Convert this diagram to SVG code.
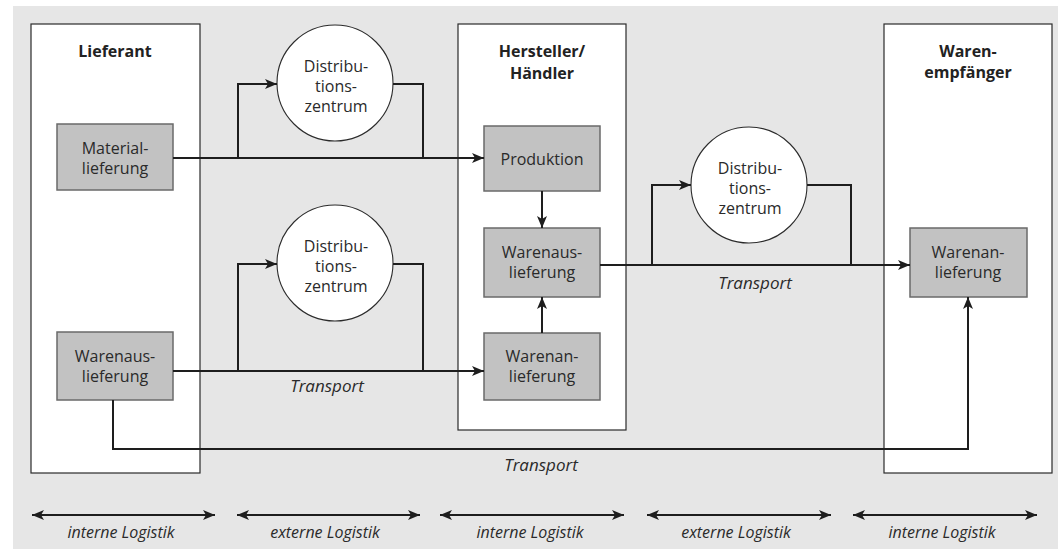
<svg xmlns="http://www.w3.org/2000/svg" width="1058" height="551" viewBox="0 0 1058 551">
  <style>
    .bg { fill: #e6e6e6; }
    .lane { fill: #ffffff; stroke: #2b2b2b; stroke-width: 1.2; }
    .step { fill: #c2c2c2; stroke: #6a6a6a; stroke-width: 1.5; }
    .hub { fill: #ffffff; stroke: #2b2b2b; stroke-width: 1.1; }
    .t { font-family: "Open Sans", "Noto Sans", sans-serif; font-size: 16px; fill: #2a2a2a; text-anchor: middle; }
    .title { font-weight: bold; font-size: 16px; fill: #222; }
    .it { font-style: italic; }
    .big { font-size: 17px; }
    .wire { fill: none; stroke: #1e1e1e; stroke-width: 2; }
  </style>
  <defs>
    <marker id="head" markerUnits="userSpaceOnUse" markerWidth="13" markerHeight="11" refX="12" refY="5" orient="auto-start-reverse">
      <path d="M0,0 L12,5 L0,10 L3,5 Z" fill="#1e1e1e"/>
    </marker>
  </defs>

  <rect class="bg" x="13" y="6" width="1045" height="543"/>

  <!-- swimlanes -->
  <g id="lieferant">
    <rect class="lane" x="31" y="24" width="169" height="449"/>
    <text class="t title" x="115" y="57">Lieferant</text>
  </g>
  <g id="hersteller">
    <rect class="lane" x="458" y="24" width="168" height="406"/>
    <text class="t title" x="542" y="57">Hersteller/</text>
    <text class="t title" x="542" y="79">Händler</text>
  </g>
  <g id="warenempfaenger">
    <rect class="lane" x="884" y="24" width="168" height="449"/>
    <text class="t title" x="968" y="57">Waren-</text>
    <text class="t title" x="968" y="78">empfänger</text>
  </g>

  <!-- process steps -->
  <g id="materiallieferung">
    <rect class="step" x="57" y="124" width="116" height="66"/>
    <text class="t" x="115" y="154">Material-</text>
    <text class="t" x="115" y="174">lieferung</text>
  </g>
  <g id="warenauslieferung-lieferant">
    <rect class="step" x="57" y="332" width="116" height="68"/>
    <text class="t" x="115" y="362">Warenaus-</text>
    <text class="t" x="115" y="382">lieferung</text>
  </g>
  <g id="produktion">
    <rect class="step" x="484" y="126" width="116" height="65"/>
    <text class="t" x="542" y="165">Produktion</text>
  </g>
  <g id="warenauslieferung-hersteller">
    <rect class="step" x="484" y="228" width="116" height="69"/>
    <text class="t" x="542" y="258">Warenaus-</text>
    <text class="t" x="542" y="278">lieferung</text>
  </g>
  <g id="warenanlieferung-hersteller">
    <rect class="step" x="484" y="333" width="116" height="67"/>
    <text class="t" x="542" y="362">Warenan-</text>
    <text class="t" x="542" y="382">lieferung</text>
  </g>
  <g id="warenanlieferung-empfaenger">
    <rect class="step" x="910" y="228" width="117" height="69"/>
    <text class="t" x="968" y="258">Warenan-</text>
    <text class="t" x="968" y="278">lieferung</text>
  </g>

  <!-- distribution centres -->
  <g id="dz-material">
    <circle class="hub" cx="335" cy="83" r="58"/>
    <text class="t" x="336" y="72">Distribu-</text>
    <text class="t" x="336" y="92">tions-</text>
    <text class="t" x="336" y="112">zentrum</text>
  </g>
  <g id="dz-waren">
    <circle class="hub" cx="335" cy="263" r="58"/>
    <text class="t" x="336" y="252">Distribu-</text>
    <text class="t" x="336" y="272">tions-</text>
    <text class="t" x="336" y="292">zentrum</text>
  </g>
  <g id="dz-kunde">
    <circle class="hub" cx="749" cy="185" r="58"/>
    <text class="t" x="750" y="174">Distribu-</text>
    <text class="t" x="750" y="194">tions-</text>
    <text class="t" x="750" y="214">zentrum</text>
  </g>

  <!-- flows -->
  <g id="connectors">
    <path class="wire" d="M173,158 H484" marker-end="url(#head)"/>
    <path class="wire" d="M238,158 V84 H277" marker-end="url(#head)"/>
    <path class="wire" d="M393,84 H423 V158"/>

    <path class="wire" d="M173,371 H484" marker-end="url(#head)"/>
    <path class="wire" d="M238,371 V264 H277" marker-end="url(#head)"/>
    <path class="wire" d="M393,264 H423 V371"/>

    <path class="wire" d="M542,191 V228" marker-end="url(#head)"/>
    <path class="wire" d="M542,333 V297" marker-end="url(#head)"/>

    <path class="wire" d="M600,265 H910" marker-end="url(#head)"/>
    <path class="wire" d="M652,265 V185 H691" marker-end="url(#head)"/>
    <path class="wire" d="M807,185 H851 V265"/>

    <path class="wire" d="M113,400 V449 H968 V297" marker-end="url(#head)"/>

    <!-- logistics spans -->
    <path class="wire" d="M32,515 H215" marker-start="url(#head)" marker-end="url(#head)"/>
    <path class="wire" d="M237,515 H420" marker-start="url(#head)" marker-end="url(#head)"/>
    <path class="wire" d="M440,515 H624" marker-start="url(#head)" marker-end="url(#head)"/>
    <path class="wire" d="M647,515 H831" marker-start="url(#head)" marker-end="url(#head)"/>
    <path class="wire" d="M853,515 H1037" marker-start="url(#head)" marker-end="url(#head)"/>
  </g>

  <!-- labels -->
  <text class="t it big" x="327" y="392">Transport</text>
  <text class="t it big" x="755" y="289">Transport</text>
  <text class="t it big" x="541" y="471">Transport</text>

  <text class="t it" x="121" y="538">interne Logistik</text>
  <text class="t it" x="325" y="538">externe Logistik</text>
  <text class="t it" x="530" y="538">interne Logistik</text>
  <text class="t it" x="736" y="538">externe Logistik</text>
  <text class="t it" x="942" y="538">interne Logistik</text>
</svg>
